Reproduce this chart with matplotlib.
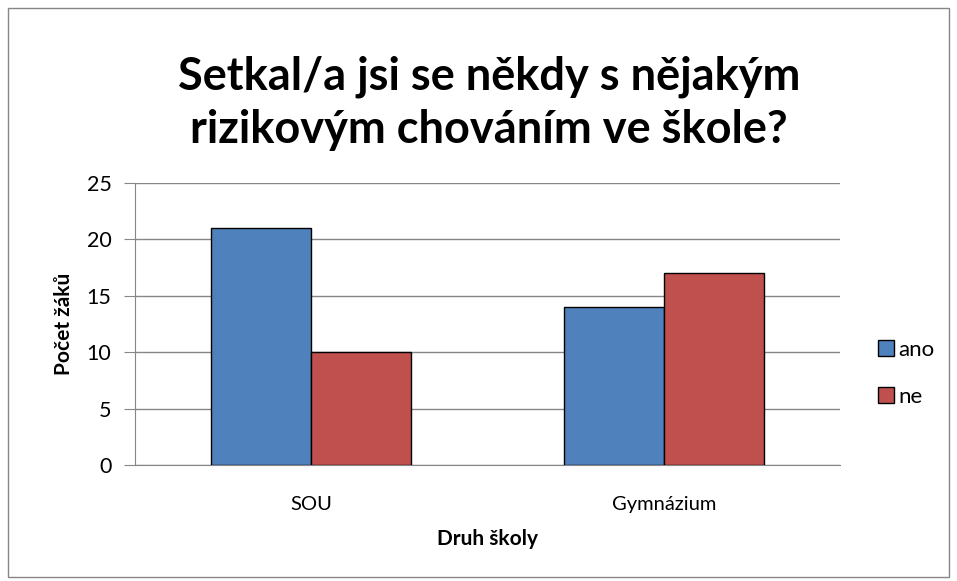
import matplotlib.pyplot as plt
import numpy as np
from matplotlib.patches import Rectangle

# Data
categories = ['SOU', 'Gymnázium']
ano = [21, 14]
ne = [10, 17]
yticks = [0, 5, 10, 15, 20, 25]

plt.rcParams['font.family'] = ['Lato', 'DejaVu Sans']

fig = plt.figure(figsize=(9.57, 5.81), dpi=100)
ax = fig.add_axes([135 / 957, 116 / 581, 705 / 957, 282 / 581])

x = np.arange(len(categories))
w = 100 / 352.5
ax.bar(x - w / 2, ano, w, color='#4F81BD', edgecolor='black', linewidth=1, label='ano', zorder=3)
ax.bar(x + w / 2, ne, w, color='#C0504D', edgecolor='black', linewidth=1, label='ne', zorder=3)

ax.set_xlim(-0.5, 1.5)
ax.set_ylim(0, 25)
ax.set_yticks(yticks)
ax.set_xticks(x)
ax.set_xticklabels(categories, fontsize=14.5)
ax.tick_params(axis='y', labelsize=15.5, length=8, color='#868686', pad=9)
ax.tick_params(axis='x', length=0, pad=22)
ax.yaxis.grid(True, color='#868686', linewidth=1, zorder=0)
for s in ['top', 'right']:
    ax.spines[s].set_visible(False)
for s in ['left', 'bottom']:
    ax.spines[s].set_color('#868686')

ax.set_ylabel('Počet žáků', fontsize=15, fontweight='bold', labelpad=9)
ax.set_xlabel('Druh školy', fontsize=15, fontweight='bold', labelpad=12)

fig.text(0.511, 0.822, 'Setkal/a jsi se někdy s nějakým\nrizikovým chováním ve škole?',
         ha='center', va='center', fontsize=32.5, fontweight='bold', linespacing=1.32)

ax.legend(loc='center left', bbox_to_anchor=(1.025, 0.325), frameon=False, fontsize=16,
          handlelength=0.75, handleheight=0.75, handletextpad=0.2, labelspacing=1.2)

fig.patches.append(Rectangle((8 / 957, 4 / 581), 941 / 957, 569 / 581, transform=fig.transFigure,
                             fill=False, edgecolor='#868686', linewidth=1))

fig.savefig('out.png', dpi=100)
